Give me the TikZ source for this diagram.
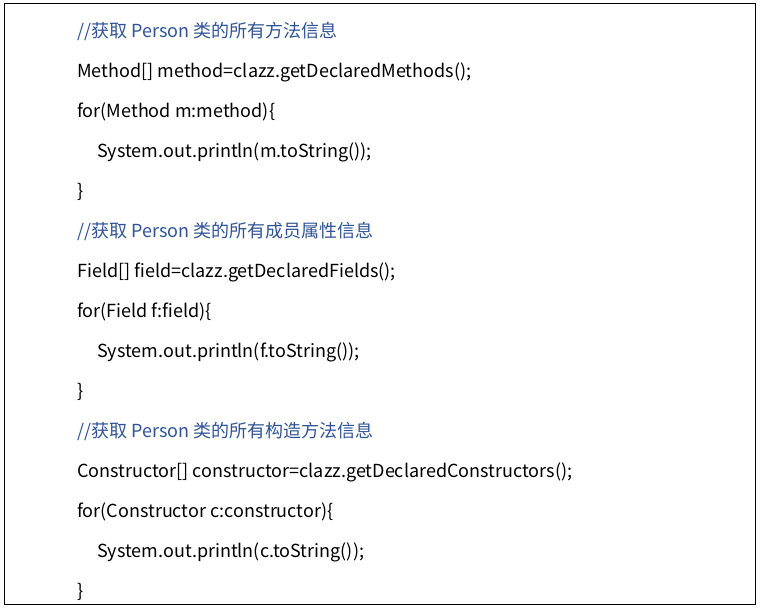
\documentclass[tikz,border=0pt]{standalone}
\usepackage{fontspec}
\setmainfont{Noto Sans CJK SC}
\usetikzlibrary{positioning}
\definecolor{CommentBlue}{RGB}{47,84,150}
\tikzstyle{Code} = [anchor=base west, inner sep=0pt,
font=\fontsize{18}{18}\selectfont]
\tikzstyle{Comment} = [Code, text=CommentBlue]

\begin{document}
\begin{tikzpicture}[x=1pt, y=-1pt]
    \useasboundingbox (0,0) rectangle (760,608);
    \draw[line width=1.2pt] (4.5,3.5) rectangle (755.5,604.5);
    \node [Comment] (c1) at (77,37) {//获取 Person 类的所有方法信息};
    \node [Code] (d1) at (77,77) {Method[] method=clazz.getDeclaredMethods();};
    \node [Code] (f1) at (77,117) {for(Method m:method)\{};
    \node [Code] (p1) at (97,157) {System.out.println(m.toString());};
    \node [Code] (e1) at (77,197) {\}};
    \node [Comment] (c2) at (77,237) {//获取 Person 类的所有成员属性信息};
    \node [Code] (d2) at (77,277) {Field[] field=clazz.getDeclaredFields();};
    \node [Code] (f2) at (77,317) {for(Field f:field)\{};
    \node [Code] (p2) at (97,357) {System.out.println(f.toString());};
    \node [Code] (e2) at (77,397) {\}};
    \node [Comment] (c3) at (77,437) {//获取 Person 类的所有构造方法信息};
    \node [Code] (d3) at (77,477) {Constructor[] constructor=clazz.getDeclaredConstructors();};
    \node [Code] (f3) at (77,517) {for(Constructor c:constructor)\{};
    \node [Code] (p3) at (97,557) {System.out.println(c.toString());};
    \node [Code] (e3) at (77,597) {\}};
\end{tikzpicture}
\end{document}
